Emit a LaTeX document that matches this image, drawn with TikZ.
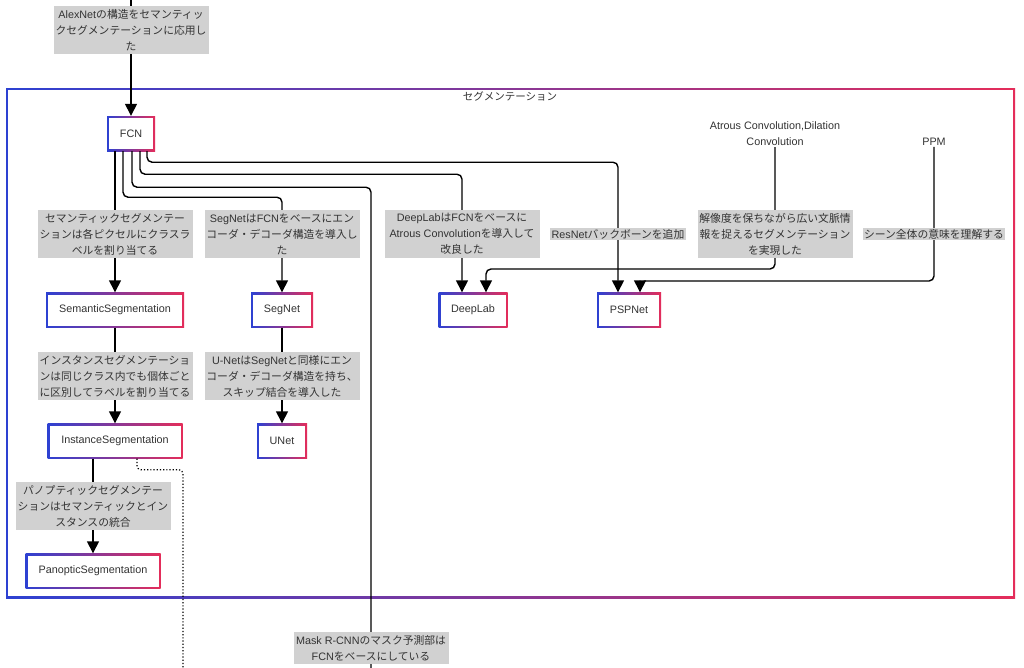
\documentclass[tikz,border=0pt]{standalone}
\usepackage{fontspec}
\setmainfont{Liberation Sans}
\newfontfamily\jpf{Noto Sans CJK JP}
\newcommand\jp[1]{{\jpf #1}}
\usetikzlibrary{arrows.meta}
\definecolor{gblue}{RGB}{45,65,210}
\definecolor{gred}{RGB}{228,45,90}
\definecolor{txt}{RGB}{51,51,51}
\definecolor{lblfill}{RGB}{209,209,209}
\tikzset{
  gradframe/.style={inner sep=0pt, text=txt,
    path picture={
      \shade[left color=gblue,right color=gred]
        (path picture bounding box.south west) rectangle (path picture bounding box.north east);
      \fill[white]
        ([shift={(#1,#1)}]path picture bounding box.south west) rectangle
        ([shift={(-#1,-#1)}]path picture bounding box.north east);
    }},
  gbox/.style={gradframe=2pt, minimum height=35pt, font=\fontsize{10.8}{14}\selectfont},
  lbl/.style={fill=lblfill, text=txt, font=\fontsize{10.8}{16}\selectfont, align=center, inner sep=1.5pt},
  lbl3/.style={lbl, minimum width=155pt, minimum height=48pt},
  plain/.style={text=txt, font=\fontsize{10.8}{16}\selectfont, align=center, inner sep=1pt},
  tip/.tip={Triangle[length=12pt,width=12pt]},
  edge/.style={draw=black, line width=1.4pt, rounded corners=5pt, -tip},
  edgeplain/.style={draw=black, line width=1.4pt, rounded corners=5pt},
  dotedge/.style={draw=black, line width=1.2pt, dotted, rounded corners=4pt}
}
\begin{document}
\begin{tikzpicture}[x=1pt,y=-1pt]
\useasboundingbox[fill=white] (0,0) rectangle (1024,667);
% cluster
\node[gradframe=1.8pt, minimum width=1009pt, minimum height=510pt] (cluster) at (510.5,343) {};
\node[text=txt, font=\jpf\fontsize{10.5}{12}\selectfont, inner sep=0pt] (clustertitle) at (510,96) {セグメンテーション};
% nodes
\node[gbox, minimum width=48pt] (fcn) at (131,133.5) {FCN};
\node[gbox, minimum width=138pt] (sem) at (115,310) {SemanticSegmentation};
\node[gbox, minimum width=62pt] (segnet) at (282,310) {SegNet};
\node[gbox, minimum width=69pt] (deeplab) at (473,310) {DeepLab};
\node[gbox, minimum width=64pt] (psp) at (629,310) {PSPNet};
\node[gbox, minimum width=135pt] (inst) at (115,441) {InstanceSegmentation};
\node[gbox, minimum width=50pt] (unet) at (282,441) {UNet};
\node[gbox, minimum width=135pt] (pan) at (93,571) {PanopticSegmentation};
\node[plain] (atrous) at (775,134) {Atrous Convolution,Dilation\\Convolution};
\node[plain] (ppm) at (934,142) {PPM};
\coordinate (top) at (131,-2);
\coordinate (maskend) at (371,675);
\coordinate (dotend) at (183,675);
% edges
\draw[edge] (top) -- (fcn.north);
\draw[edge] ([xshift=-16pt]fcn.south) -- (sem.north);
\draw[edge] ([xshift=-8pt]fcn.south) -- ++(0,46) -| (segnet.north);
\draw[edgeplain] ([xshift=1pt]fcn.south) -- ++(0,36) -| (maskend);
\draw[edge] ([xshift=9pt]fcn.south) -- ++(0,23) -| ([xshift=-11pt]deeplab.north);
\draw[edge] ([xshift=16pt]fcn.south) -- ++(0,11) -| ([xshift=-11pt]psp.north);
\draw[edge] (atrous.south) -- (775,269) -| ([xshift=13pt]deeplab.north);
\draw[edge] (ppm.south) -- (934,281) -| ([xshift=11pt]psp.north);
\draw[edge] (sem.south) -- (inst.north);
\draw[edge] (segnet.south) -- (unet.north);
\draw[edge] ([xshift=-22pt]inst.south) -- (pan.north);
\draw[dotedge] ([xshift=22pt]inst.south) -- ++(0,11) -| (dotend);
% labels
\node[lbl3] (l-alex) at (131,30) {AlexNet\jp{の構造をセマンティッ}\\\jp{クセグメンテーションに応用し}\\\jp{た}};
\node[lbl3, font=\jpf\fontsize{10.8}{16}\selectfont] (l-sem) at (115,234) {セマンティックセグメンテー\\ションは各ピクセルにクラスラ\\ベルを割り当てる};
\node[lbl3] (l-segnet) at (282,234) {SegNet\jp{は}FCN\jp{をベースにエン}\\\jp{コーダ・デコーダ構造を導入し}\\\jp{た}};
\node[lbl3] (l-deeplab) at (462,234) {DeepLab\jp{は}FCN\jp{をベースに}\\Atrous Convolution\jp{を導入して}\\\jp{改良した}};
\node[lbl] (l-resnet) at (618,234) {ResNet\jp{バックボーンを追加}};
\node[lbl3, font=\jpf\fontsize{10.8}{16}\selectfont] (l-atrous) at (775,234) {解像度を保ちながら広い文脈情\\報を捉えるセグメンテーション\\を実現した};
\node[lbl, font=\jpf\fontsize{10.8}{16}\selectfont] (l-ppm) at (934,234) {シーン全体の意味を理解する};
\node[lbl3, font=\jpf\fontsize{10.8}{16}\selectfont] (l-inst) at (115,376) {インスタンスセグメンテーショ\\ンは同じクラス内でも個体ごと\\に区別してラベルを割り当てる};
\node[lbl3] (l-unet) at (282,376) {U-Net\jp{は}SegNet\jp{と同様にエン}\\\jp{コーダ・デコーダ構造を持ち、}\\\jp{スキップ結合を導入した}};
\node[lbl3, font=\jpf\fontsize{10.8}{16}\selectfont] (l-pan) at (93,506) {パノプティックセグメンテー\\ションはセマンティックとイン\\スタンスの統合};
\node[lbl, minimum width=155pt, minimum height=32pt] (l-mask) at (371,648) {Mask R-CNN\jp{のマスク予測部は}\\FCN\jp{をベースにしている}};
\end{tikzpicture}
\end{document}
